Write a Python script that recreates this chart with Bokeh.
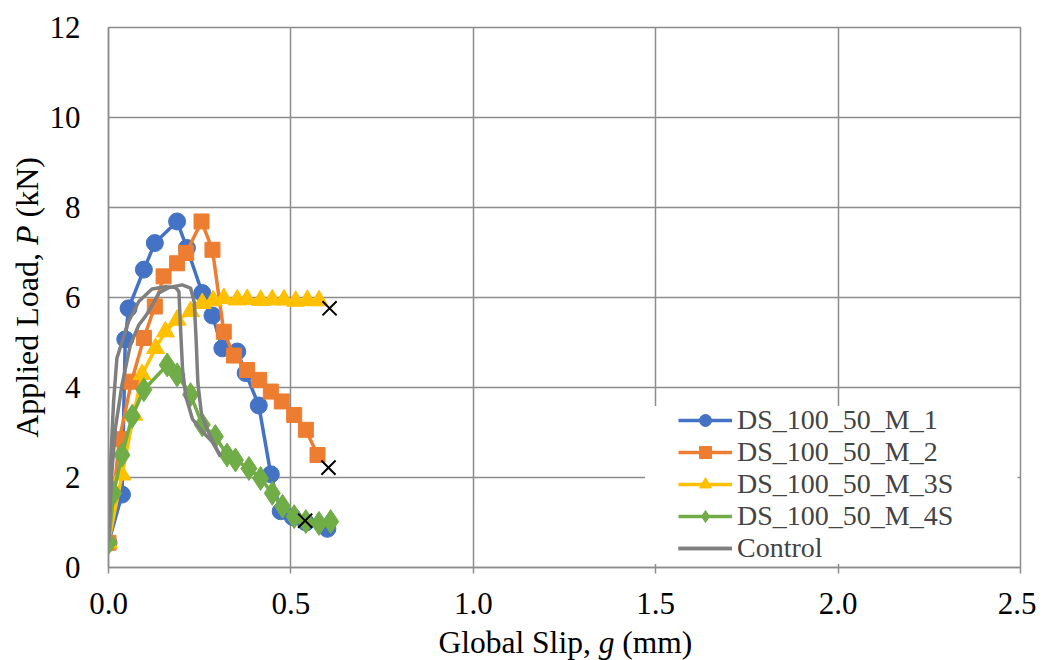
from bokeh.plotting import figure
from bokeh.models import Range1d, FixedTicker, NumeralTickFormatter
from bokeh.core.properties import value
from bokeh.embed import file_html
from bokeh.resources import INLINE

# ---------------- data ----------------
m1_x = [0, 0.037, 0.046, 0.055, 0.097, 0.127, 0.188, 0.215, 0.257, 0.285, 0.312, 0.353, 0.376, 0.412, 0.445, 0.472, 0.505, 0.541, 0.600]
m1_y = [0.55, 1.62, 5.07, 5.76, 6.62, 7.21, 7.69, 7.10, 6.10, 5.60, 4.87, 4.80, 4.32, 3.60, 2.07, 1.25, 1.12, 1.00, 0.86]

m2_x = [0, 0.030, 0.063, 0.097, 0.127, 0.151, 0.188, 0.213, 0.255, 0.285, 0.316, 0.344, 0.380, 0.413, 0.445, 0.475, 0.509, 0.541, 0.573]
m2_y = [0.55, 2.85, 4.13, 5.10, 5.80, 6.47, 6.76, 6.99, 7.69, 7.06, 5.24, 4.71, 4.39, 4.17, 3.91, 3.69, 3.39, 3.06, 2.50]

m3_x = [0, 0.037, 0.069, 0.092, 0.129, 0.156, 0.188, 0.225, 0.257, 0.287, 0.316, 0.353, 0.380, 0.417, 0.449, 0.481, 0.513, 0.545, 0.577]
m3_y = [0.55, 2.06, 3.39, 4.29, 4.87, 5.24, 5.50, 5.69, 5.87, 5.93, 5.98, 5.95, 5.96, 5.94, 5.95, 5.95, 5.92, 5.94, 5.93]

m4_x = [0, 0.014, 0.037, 0.065, 0.097, 0.161, 0.188, 0.225, 0.257, 0.293, 0.325, 0.348, 0.385, 0.417, 0.449, 0.477, 0.509, 0.541, 0.577, 0.609]
m4_y = [0.55, 1.65, 2.50, 3.36, 3.95, 4.50, 4.28, 3.84, 3.17, 2.91, 2.50, 2.39, 2.20, 1.98, 1.65, 1.36, 1.13, 1.02, 0.98, 1.02]

ctrl_a_x = [0, 0.005, 0.014, 0.023, 0.055, 0.083, 0.119, 0.156, 0.184, 0.193, 0.197, 0.203, 0.212, 0.230, 0.257, 0.284, 0.307]
ctrl_a_y = [0.58, 2.20, 3.69, 4.65, 5.47, 5.91, 6.19, 6.24, 6.22, 6.13, 5.40, 4.40, 3.80, 3.30, 3.02, 2.80, 2.47]
ctrl_b_x = [0, 0.010, 0.019, 0.037, 0.060, 0.083, 0.101, 0.115, 0.138, 0.165, 0.202, 0.225, 0.235, 0.240, 0.245, 0.255, 0.270, 0.286, 0.307]
ctrl_b_y = [0.58, 2.20, 3.10, 4.06, 4.95, 5.39, 5.58, 5.76, 6.10, 6.22, 6.28, 6.21, 5.90, 5.10, 4.10, 3.40, 3.08, 2.80, 2.47]

fail_x = [0.606, 0.603, 0.539]
fail_y = [5.76, 2.22, 1.04]

x_ticks = [0, 0.5, 1.0, 1.5, 2.0, 2.5]
y_ticks = [0, 2, 4, 6, 8, 10, 12]

names = ["DS_100_50_M_1", "DS_100_50_M_2", "DS_100_50_M_3S", "DS_100_50_M_4S", "Control"]
colors = ["#4472C4", "#ED7D31", "#FFC000", "#70AD47", "#7F7F7F"]
markers = ["circle", "square", "triangle", "diamond"]
msizes = [17, 15, 18, 24]

x_title = [("Global Slip,", "normal"), ("g", "italic"), ("(mm)", "normal")]
y_title = [("Applied Load,", "normal"), ("P", "italic"), ("(kN)", "normal")]

FONT = "Liberation Serif"
GRID = "#8c8c8c"

p = figure(frame_width=912, frame_height=540,
           min_border_left=108, min_border_top=27, min_border_right=16, min_border_bottom=93,
           x_range=Range1d(0, 2.5), y_range=Range1d(0, 12),
           output_backend="svg", toolbar_location=None)
p.background_fill_color = "white"
p.border_fill_color = "white"
p.outline_line_color = GRID
p.outline_line_width = 1.5

p.xaxis.ticker = FixedTicker(ticks=x_ticks)
p.yaxis.ticker = FixedTicker(ticks=y_ticks)
p.xaxis.formatter = NumeralTickFormatter(format="0.0")
p.yaxis.formatter = NumeralTickFormatter(format="0")
p.xgrid.ticker = FixedTicker(ticks=x_ticks)
p.ygrid.ticker = FixedTicker(ticks=y_ticks)
p.grid.grid_line_color = GRID
p.grid.grid_line_width = 1.5
p.xaxis.minor_tick_line_color = None
p.yaxis.minor_tick_line_color = None
for ax in (p.xaxis, p.yaxis):
    ax.axis_line_color = GRID
    ax.axis_line_width = 1.5
    ax.major_tick_line_color = GRID
    ax.major_tick_line_width = 1.5
    ax.major_label_text_font = FONT
    ax.major_label_text_font_size = "31px"
    ax.major_label_text_color = "black"
p.xaxis.major_tick_out = 6
p.xaxis.major_tick_in = 0
p.yaxis.major_tick_out = 0
p.yaxis.major_tick_in = 0
p.xaxis.major_label_standoff = 19
p.yaxis.major_label_standoff = 28

# white legend panel (hides gridlines behind the legend)
p.quad(left=[1.471], right=[2.492], bottom=[0.08], top=[3.59],
       fill_color="white", line_color=None)

series = [(m1_x, m1_y), (m2_x, m2_y), (m3_x, m3_y), (m4_x, m4_y)]
for (xs, ys), nm, c, mk, ms in zip(series, names, colors, markers, msizes):
    p.line(xs, ys, line_color=c, line_width=3.5, legend_label=nm)
    p.scatter(xs, ys, marker=mk, size=ms, fill_color=c, line_color=c, legend_label=nm)

p.line(ctrl_a_x, ctrl_a_y, line_color=colors[4], line_width=3.5, legend_label=names[4])
p.line(ctrl_b_x, ctrl_b_y, line_color=colors[4], line_width=3.5, legend_label=names[4])

p.scatter(fail_x, fail_y, marker="x", size=20, line_color="black", line_width=2)

lg = p.legend[0]
lg.location = (570, 3)
lg.padding = 0
lg.margin = 0
lg.spacing = 0
lg.glyph_width = 54
lg.glyph_height = 30
lg.label_height = 30
lg.label_standoff = 5
lg.label_text_font = FONT
lg.label_text_font_size = "28px"
lg.border_line_color = None
lg.background_fill_alpha = 0

# axis titles with italic symbols, drawn as unclipped text glyphs
# Times/Liberation Serif advance widths (em) of each piece incl. following space
fs_x = 31.5
x_adv = [5.084, 0.5 + 0.25, 0.0]
cur = 0.9046
for (t, st), adv in zip(x_title, x_adv):
    r = p.text(x=[cur], y=[-1.675], text=[t], text_font=value(FONT), text_font_size=value(f"{fs_x}px"),
               text_font_style=st, text_baseline="alphabetic", text_align="left", text_color="black")
    r.level = "overlay"
    cur += adv * fs_x / 364.8

fs_y = 32
y_adv = [6.027, 0.611 + 0.25, 0.0]
cur = 2.882
for (t, st), adv in zip(y_title, y_adv):
    r = p.text(x=[-0.223], y=[cur], text=[t], text_font=value(FONT), text_font_size=value(f"{fs_y}px"),
               text_font_style=st, text_baseline="alphabetic", text_align="left", text_color="black",
               angle=1.5707963267948966)
    r.level = "overlay"
    cur += adv * fs_y / 45.0

open("out.html", "w").write(file_html(p, INLINE))
